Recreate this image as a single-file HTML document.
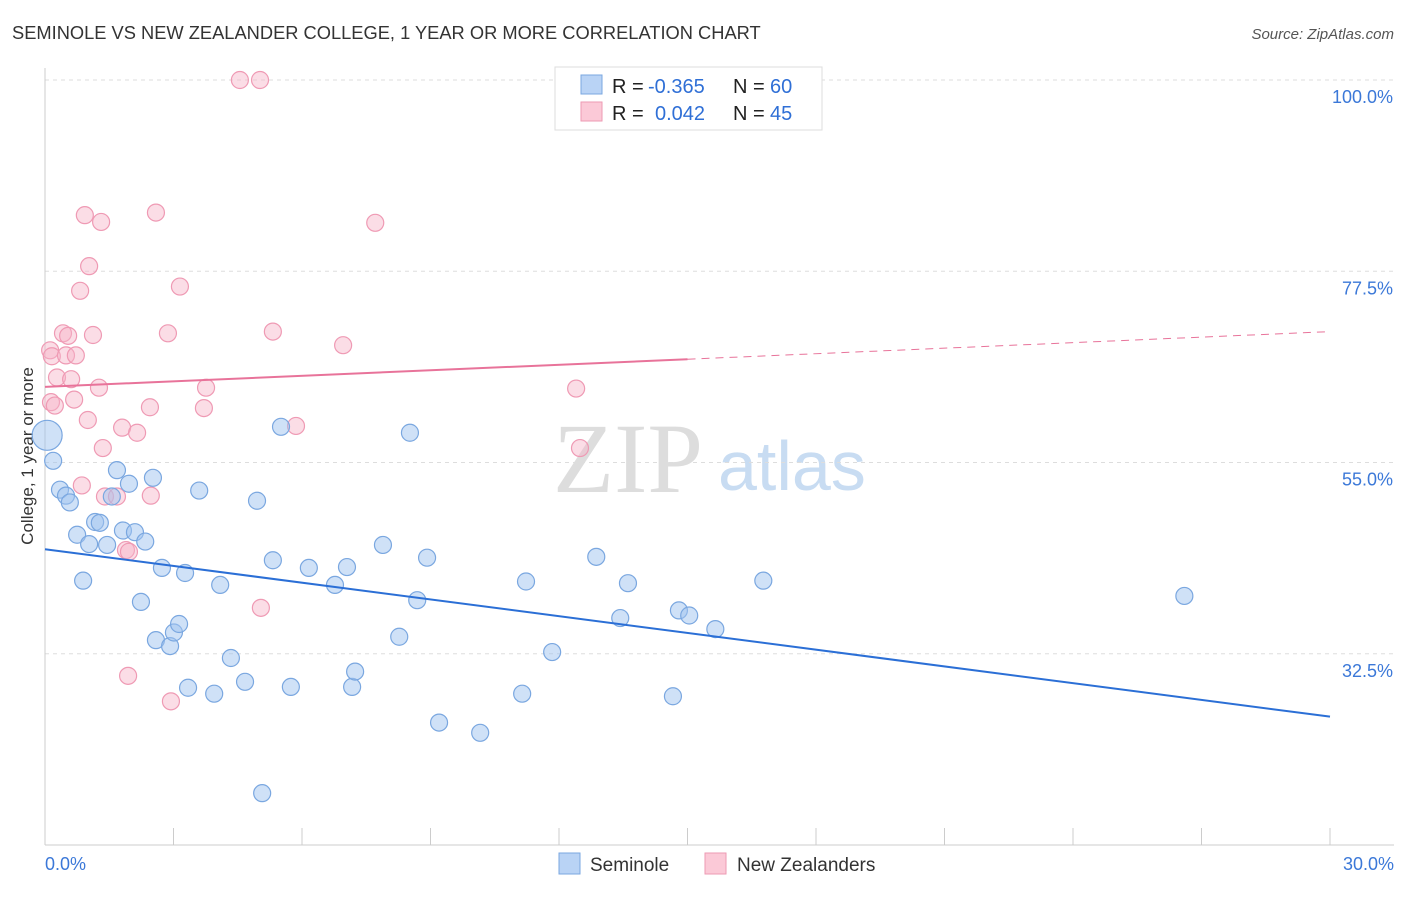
<!DOCTYPE html>
<html><head><meta charset="utf-8"><style>
body{margin:0;background:#fff;font-family:"Liberation Sans",sans-serif;}
svg text{font-family:"Liberation Sans",sans-serif;}
</style></head><body>
<svg id="chart" width="1406" height="892" xmlns="http://www.w3.org/2000/svg">
<text x="12" y="39" font-size="18.3" fill="#333">SEMINOLE VS NEW ZEALANDER COLLEGE, 1 YEAR OR MORE CORRELATION CHART</text>
<text x="1394" y="39" font-size="15" fill="#555" font-style="italic" text-anchor="end">Source: ZipAtlas.com</text>
<text x="33" y="456" font-size="17" fill="#333" text-anchor="middle" transform="rotate(-90 33 456)">College, 1 year or more</text>
<g>
<text x="553" y="492" font-size="100" style="font-family:'Liberation Serif',serif" fill="#ddd">ZIP</text>
<text x="718" y="490" font-size="70" fill="#c8dcf2">atlas</text>
</g>
<g id="grid"></g><g id="axes"></g><g id="marks"></g>
<g>
<rect x="555" y="67" width="267" height="63" fill="#fff" stroke="#ddd"/>
<rect x="581" y="75" width="21" height="19" fill="#b9d3f5" stroke="#7aa7e0"/>
<rect x="581" y="102" width="21" height="19" fill="#fbc9d7" stroke="#ee9ab3"/>
<text x="612" y="93" font-size="20" fill="#222">R =</text>
<text x="648" y="93" font-size="20" fill="#2f6fd6">-0.365</text>
<text x="733" y="93" font-size="20" fill="#222">N =</text>
<text x="770" y="93" font-size="20" fill="#2f6fd6">60</text>
<text x="612" y="120" font-size="20" fill="#222">R =</text>
<text x="655" y="120" font-size="20" fill="#2f6fd6">0.042</text>
<text x="733" y="120" font-size="20" fill="#222">N =</text>
<text x="770" y="120" font-size="20" fill="#2f6fd6">45</text>
</g>
<g>
<rect x="559" y="853" width="21" height="21" fill="#b9d3f5" stroke="#7aa7e0"/>
<text x="590" y="871" font-size="19" fill="#333">Seminole</text>
<rect x="705" y="853" width="21" height="21" fill="#fbc9d7" stroke="#ee9ab3"/>
<text x="737" y="871" font-size="19" fill="#333">New Zealanders</text>
</g>
</svg>
<script>
const blueX=[0.05,0.19,0.35,0.49,0.58,0.75,0.89,1.03,1.17,1.28,1.45,1.56,1.68,1.82,1.96,2.10,2.24,2.34,2.52,2.59,2.73,2.92,3.01,3.13,3.27,3.34,3.60,3.95,4.09,4.34,4.67,4.95,5.07,5.32,5.51,5.74,6.16,6.77,7.05,7.17,7.24,7.89,8.27,8.52,8.69,8.92,9.20,10.16,11.14,11.23,11.84,12.87,13.43,13.61,14.66,14.80,15.04,15.65,16.77,26.60];
const blueY=[58.2,55.2,51.8,51.1,50.3,46.5,41.1,45.4,48.0,47.9,45.3,51.0,54.1,47.0,52.5,46.8,38.6,45.7,53.2,34.1,42.6,33.4,35.0,36.0,42.0,28.5,51.7,27.8,40.6,32.0,29.2,50.5,16.1,43.5,59.2,28.6,42.6,40.6,42.7,28.6,30.4,45.3,34.5,58.5,38.8,43.8,24.4,23.2,27.8,41.0,32.7,43.9,36.7,40.8,27.5,37.6,37.0,35.4,41.1,39.3];
const pinkX=[4.55,5.02,0.93,1.31,2.59,7.71,1.03,0.82,3.15,0.42,0.54,1.12,2.87,5.32,6.96,0.12,0.16,0.49,0.72,0.28,0.61,1.26,3.76,12.40,0.14,0.23,0.68,2.45,3.71,1.00,1.80,2.15,5.86,1.35,12.49,0.86,1.40,1.68,2.47,1.89,1.96,5.04,1.94,2.94];
const pinkY=[100,100,84.1,83.3,84.4,83.2,78.1,75.2,75.7,70.2,69.9,70.0,70.2,70.4,68.8,68.2,67.5,67.6,67.6,65.0,64.8,63.8,63.8,63.7,62.1,61.7,62.4,61.5,61.4,60.0,59.1,58.5,59.3,56.7,56.7,52.3,51.0,51.0,51.1,44.7,44.5,37.9,29.9,26.9];
const yTicks=[100,77.5,55,32.5];
const yTickLabels=["100.0%","77.5%","55.0%","32.5%"];
const blueTrend=[44.8,25.1];
const pinkTrend=[63.9,70.4];
const NS="http://www.w3.org/2000/svg";
const sx=v=>45+v/30*1285;
const sy=v=>80+(100-v)*8.5;
function mk(tag,attrs,parent){const e=document.createElementNS(NS,tag);for(const k in attrs)e.setAttribute(k,attrs[k]);document.getElementById(parent).appendChild(e);return e;}
yTicks.forEach((t,i)=>{
 const g=mk('line',{x1:45,x2:1394,y1:sy(t),y2:sy(t),stroke:'#ddd','stroke-dasharray':'4,4'},'grid');
 
 
 const l=mk('text',{x:1393,y:sy(t)+23,'font-size':18,fill:'#3b78d8','text-anchor':'end'},'grid');
 l.textContent=yTickLabels[i];
 
 
});
let a=mk('line',{x1:45,x2:45,y1:68,y2:845,stroke:'#ccc'},'axes');


a=mk('line',{x1:45,x2:1394,y1:845,y2:845,stroke:'#ccc'},'axes');


for(let i=0;i<=10;i++){const t=mk('line',{x1:sx(i*3),x2:sx(i*3),y1:828,y2:845,stroke:'#ccc'},'axes');
 
 }
let xl=mk('text',{x:45,y:870,'font-size':18,fill:'#3b78d8'},'axes');xl.textContent='0.0%';


xl=mk('text',{x:1394,y:870,'font-size':18,fill:'#3b78d8','text-anchor':'end'},'axes');xl.textContent='30.0%';


pinkX.forEach((x,i)=>{const c=mk('circle',{cx:sx(x),cy:sy(pinkY[i]),r:8.5,fill:'rgba(247,180,200,0.45)',stroke:'#ef9ab4','stroke-width':1.2},'marks');
 
 });
blueX.forEach((x,i)=>{const c=mk('circle',{cx:sx(x),cy:sy(blueY[i]),r:i===0?15:8.5,fill:'rgba(160,195,240,0.5)',stroke:'#7aa7e0','stroke-width':1.2},'marks');
 
 });
let ln=mk('line',{x1:sx(0),y1:sy(blueTrend[0]),x2:sx(30),y2:sy(blueTrend[1]),stroke:'#2b6fd6','stroke-width':2},'marks');


const pAt=x=>pinkTrend[0]+(pinkTrend[1]-pinkTrend[0])*x/30;
ln=mk('line',{x1:sx(0),y1:sy(pAt(0)),x2:sx(15),y2:sy(pAt(15)),stroke:'#e8739a','stroke-width':2},'marks');


ln=mk('line',{x1:sx(15),y1:sy(pAt(15)),x2:sx(30),y2:sy(pAt(30)),stroke:'#e8739a','stroke-width':1,'stroke-dasharray':'8,6'},'marks');


</script>
</body></html>
